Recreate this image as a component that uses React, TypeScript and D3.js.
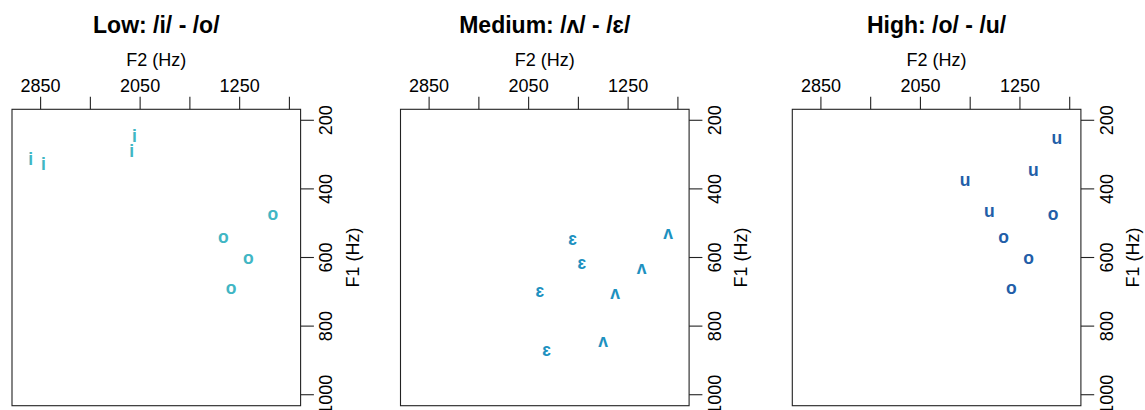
import React from "react";
import * as d3 from "d3";

// ---- data ----
const panelTitles = ["Low: /i/ - /o/", "Medium: /ʌ/ - /ɛ/", "High: /o/ - /u/"];
const panelColors = ["#41b6c4", "#1d91c0", "#225ea8"];

const lowVowels = ["i", "i", "i", "i", "o", "o", "o", "o"];
const lowF2 = [2930, 2828, 2096, 2117, 984, 1381, 1180, 1319];
const lowF1 = [313, 327, 245, 289, 478, 543, 604, 692];

const medVowels = ["ʌ", "ɛ", "ɛ", "ʌ", "ɛ", "ʌ", "ʌ", "ɛ"];
const medF2 = [928, 1697, 1622, 1142, 1960, 1354, 1451, 1906];
const medF1 = [532, 551, 619, 634, 701, 708, 846, 875];

const highVowels = ["u", "u", "u", "u", "o", "o", "o", "o"];
const highF2 = [954, 1142, 1691, 1496, 984, 1381, 1180, 1319];
const highF1 = [255, 348, 377, 468, 478, 543, 604, 692];

const f2Ticks = [2850, 2450, 2050, 1650, 1250, 850];
const f2TickLabels = ["2850", "", "2050", "", "1250", ""];
const f1Ticks = [200, 400, 600, 800, 1000];

const f2Domain = [3080, 760];
const f1Domain = [168, 1032];

// ---- layout ----
const W = 1145;
const H = 410;
const panelLefts = [12, 400.5, 792.3];
const plotW = 288.6;
const plotTop = 109.3;
const plotBottom = 405.7;
const FONT = "'Liberation Sans', Arial, Helvetica, sans-serif";

type Panel = { vowels: string[]; f2: number[]; f1: number[] };
const panels: Panel[] = [
  { vowels: lowVowels, f2: lowF2, f1: lowF1 },
  { vowels: medVowels, f2: medF2, f1: medF1 },
  { vowels: highVowels, f2: highF2, f1: highF1 },
];

function PanelView({ idx }: { idx: number }) {
  const left = panelLefts[idx];
  const right = left + plotW;
  const x = d3.scaleLinear().domain(f2Domain).range([left, right]);
  const y = d3.scaleLinear().domain(f1Domain).range([plotTop, plotBottom]);
  const p = panels[idx];
  const color = panelColors[idx];
  const cx = (left + right) / 2;
  const cy = (plotTop + plotBottom) / 2;
  const fs = 17.5;
  const afs = 18;
  return (
    <g>
      <text x={cx} y={33.3} textAnchor="middle" fontFamily={FONT} fontWeight="bold" fontSize={23} fill="#000">
        {panelTitles[idx]}
      </text>
      <text x={cx} y={65.7} textAnchor="middle" fontFamily={FONT} fontSize={afs} fill="#000">
        F2 (Hz)
      </text>
      {f2Ticks.map((t, i) => (
        <g key={"xt" + i}>
          <line x1={x(t)} x2={x(t)} y1={plotTop} y2={plotTop - 12.6} stroke="#222" strokeWidth={1.1} />
          {f2TickLabels[i] && (
            <text x={x(t)} y={91.7} textAnchor="middle" fontFamily={FONT} fontSize={afs} fill="#000">
              {f2TickLabels[i]}
            </text>
          )}
        </g>
      ))}
      {f1Ticks.map((t, i) => (
        <g key={"yt" + i}>
          <line x1={right} x2={right + 13.3} y1={y(t)} y2={y(t)} stroke="#222" strokeWidth={1.1} />
          <text
            transform={`translate(${right + 31.7},${y(t)}) rotate(-90)`}
            textAnchor="middle"
            fontFamily={FONT}
            fontSize={afs}
            fill="#000"
          >
            {String(t)}
          </text>
        </g>
      ))}
      <text
        transform={`translate(${right + 58.3},${cy}) rotate(-90)`}
        textAnchor="middle"
        fontFamily={FONT}
        fontSize={afs}
        fill="#000"
      >
        F1 (Hz)
      </text>
      <rect x={left} y={plotTop} width={plotW} height={plotBottom - plotTop} fill="none" stroke="#222" strokeWidth={1.1} />
      {p.vowels.map((v, i) => {
        const h = v === "i" ? 0.72 : 0.53;
        return (
          <text
            key={"pt" + i}
            x={x(p.f2[i])}
            y={y(p.f1[i]) + (h * fs) / 2}
            textAnchor="middle"
            fontFamily={FONT}
            fontWeight="bold"
            fontSize={fs}
            fill={color}
          >
            {v}
          </text>
        );
      })}
    </g>
  );
}

export default function App() {
  return (
    <svg
      width={W}
      height={H}
      viewBox={`0 0 ${W} ${H}`}
      style={{ position: "absolute", left: 0, top: 0, background: "#fff" }}
    >
      <rect x={0} y={0} width={W} height={H} fill="#fff" />
      {[0, 1, 2].map((i) => (
        <PanelView key={i} idx={i} />
      ))}
    </svg>
  );
}
